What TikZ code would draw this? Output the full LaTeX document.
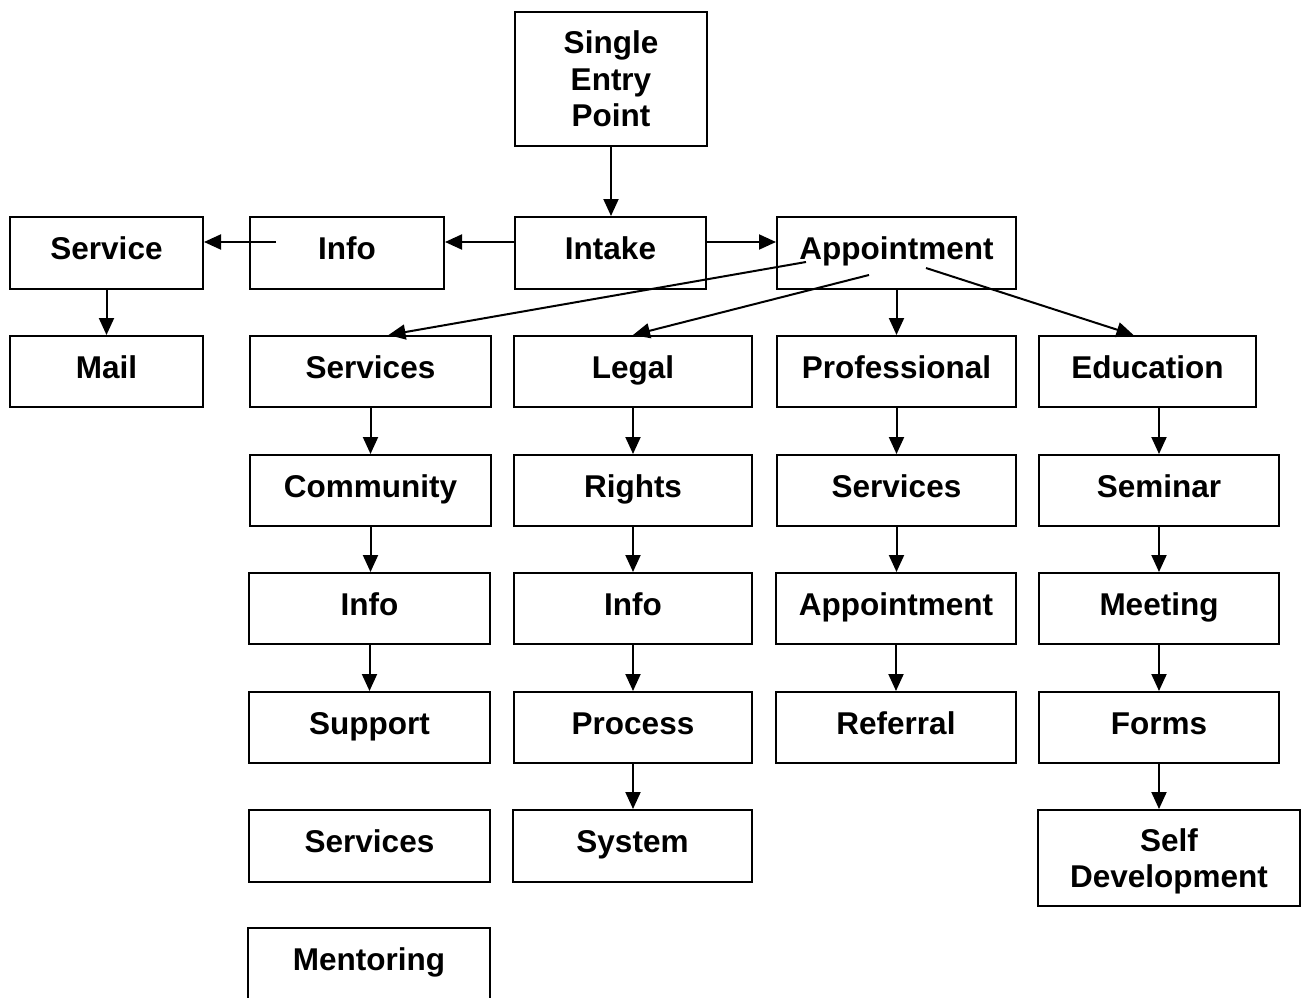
\documentclass[tikz,border=0pt]{standalone}
\usepackage{fontspec}
\setmainfont{Liberation Sans}
\usetikzlibrary{arrows.meta,calc}
\begin{document}
\begin{tikzpicture}[x=1pt,y=-1pt,
  box/.style={draw=black,line width=2pt,fill=white,inner sep=0pt,
    font=\fontsize{31.5}{36.5}\selectfont\bfseries,text height=22.5pt,text depth=9pt},
  mbox/.style={draw=black,line width=2pt,fill=white,inner sep=0pt,align=center,
    font=\fontsize{31.5}{36.5}\selectfont\bfseries},
  arr/.style={line width=2pt,-{Triangle[length=17pt,width=15pt]}}]
\useasboundingbox (0,0) rectangle (1302,998);
\fill[white] (0,0) rectangle (1302,998);
% top
\node[mbox,minimum width=192pt,minimum height=134pt] (sep) at (611,79) {Single\\Entry\\Point};
% row 1
\node[box,minimum width=193pt,minimum height=72pt] (service) at (106.5,253) {Service};
\node[box,minimum width=194pt,minimum height=72pt] (info0) at (347,253) {Info};
\node[box,minimum width=191pt,minimum height=72pt] (intake) at (610.5,253) {Intake};
\node[box,minimum width=239pt,minimum height=72pt] (appt0) at (896.5,253) {Appointment};
% row 2
\node[box,minimum width=193pt,minimum height=71pt] (mail) at (106.5,371.5) {Mail};
\node[box,minimum width=241pt,minimum height=71pt] (services1) at (370.5,371.5) {Services};
\node[box,minimum width=238pt,minimum height=71pt] (legal) at (633,371.5) {Legal};
\node[box,minimum width=239pt,minimum height=71pt] (prof) at (896.5,371.5) {Professional};
\node[box,minimum width=217pt,minimum height=71pt] (edu) at (1147.5,371.5) {Education};
% row 3
\node[box,minimum width=241pt,minimum height=71pt] (community) at (370.5,490.5) {Community};
\node[box,minimum width=238pt,minimum height=71pt] (rights) at (633,490.5) {Rights};
\node[box,minimum width=239pt,minimum height=71pt] (services2) at (896.5,490.5) {Services};
\node[box,minimum width=240pt,minimum height=71pt] (seminar) at (1159,490.5) {Seminar};
% row 4
\node[box,minimum width=241pt,minimum height=71pt] (info1) at (369.5,608.5) {Info};
\node[box,minimum width=238pt,minimum height=71pt] (info2) at (633,608.5) {Info};
\node[box,minimum width=240pt,minimum height=71pt] (appt2) at (896,608.5) {Appointment};
\node[box,minimum width=240pt,minimum height=71pt] (meeting) at (1159,608.5) {Meeting};
% row 5
\node[box,minimum width=241pt,minimum height=71pt] (support) at (369.5,727.5) {Support};
\node[box,minimum width=238pt,minimum height=71pt] (process) at (633,727.5) {Process};
\node[box,minimum width=240pt,minimum height=71pt] (referral) at (896,727.5) {Referral};
\node[box,minimum width=240pt,minimum height=71pt] (forms) at (1159,727.5) {Forms};
% row 6
\node[box,minimum width=241pt,minimum height=72pt] (services3) at (369.5,846) {Services};
\node[box,minimum width=239pt,minimum height=72pt] (system) at (632.5,846) {System};
\node[mbox,text depth=0pt,minimum width=262pt,minimum height=96pt] (selfdev) at (1169,858) {Self\\Development};
% row 7
\node[box,minimum width=242pt,minimum height=72pt] (mentoring) at (369,964) {Mentoring};
% helper coordinates
\coordinate (infostart) at (276,242);
\coordinate (a1) at (806,262);
\coordinate (a2) at (869,275);
\coordinate (a3) at (926,268);
\coordinate (t1) at ($(services1.north)+(18,0)$);
\coordinate (t3) at ($(edu.north)+(-14,0)$);
% connectors
\draw[arr] (sep.south) -- (sep.south |- intake.north);
\draw[arr] (intake.west |- infostart) -- (info0.east |- infostart);
\draw[arr] (infostart) -- (service.east |- infostart);
\draw[arr] (intake.east |- infostart) -- (appt0.west |- infostart);
\draw[arr] (service.south) -- (mail.north);
\draw[arr] (a1) -- (t1);
\draw[arr] (a2) -- (legal.north);
\draw[arr] (appt0.south) -- (prof.north);
\draw[arr] (a3) -- (t3);
\draw[arr] (services1.south) -- (community.north);
\draw[arr] (community.south) -- (info1.north -| community.south);
\draw[arr] (info1.south) -- (support.north);
\draw[arr] (legal.south) -- (rights.north);
\draw[arr] (rights.south) -- (info2.north);
\draw[arr] (info2.south) -- (process.north);
\draw[arr] (process.south) -- (system.north -| process.south);
\draw[arr] (prof.south) -- (services2.north);
\draw[arr] (services2.south) -- (appt2.north -| services2.south);
\draw[arr] (appt2.south) -- (referral.north);
\draw[arr] (edu.south -| seminar.north) -- (seminar.north);
\draw[arr] (seminar.south) -- (meeting.north);
\draw[arr] (meeting.south) -- (forms.north);
\draw[arr] (forms.south) -- (forms.south |- selfdev.north);
\end{tikzpicture}
\end{document}
